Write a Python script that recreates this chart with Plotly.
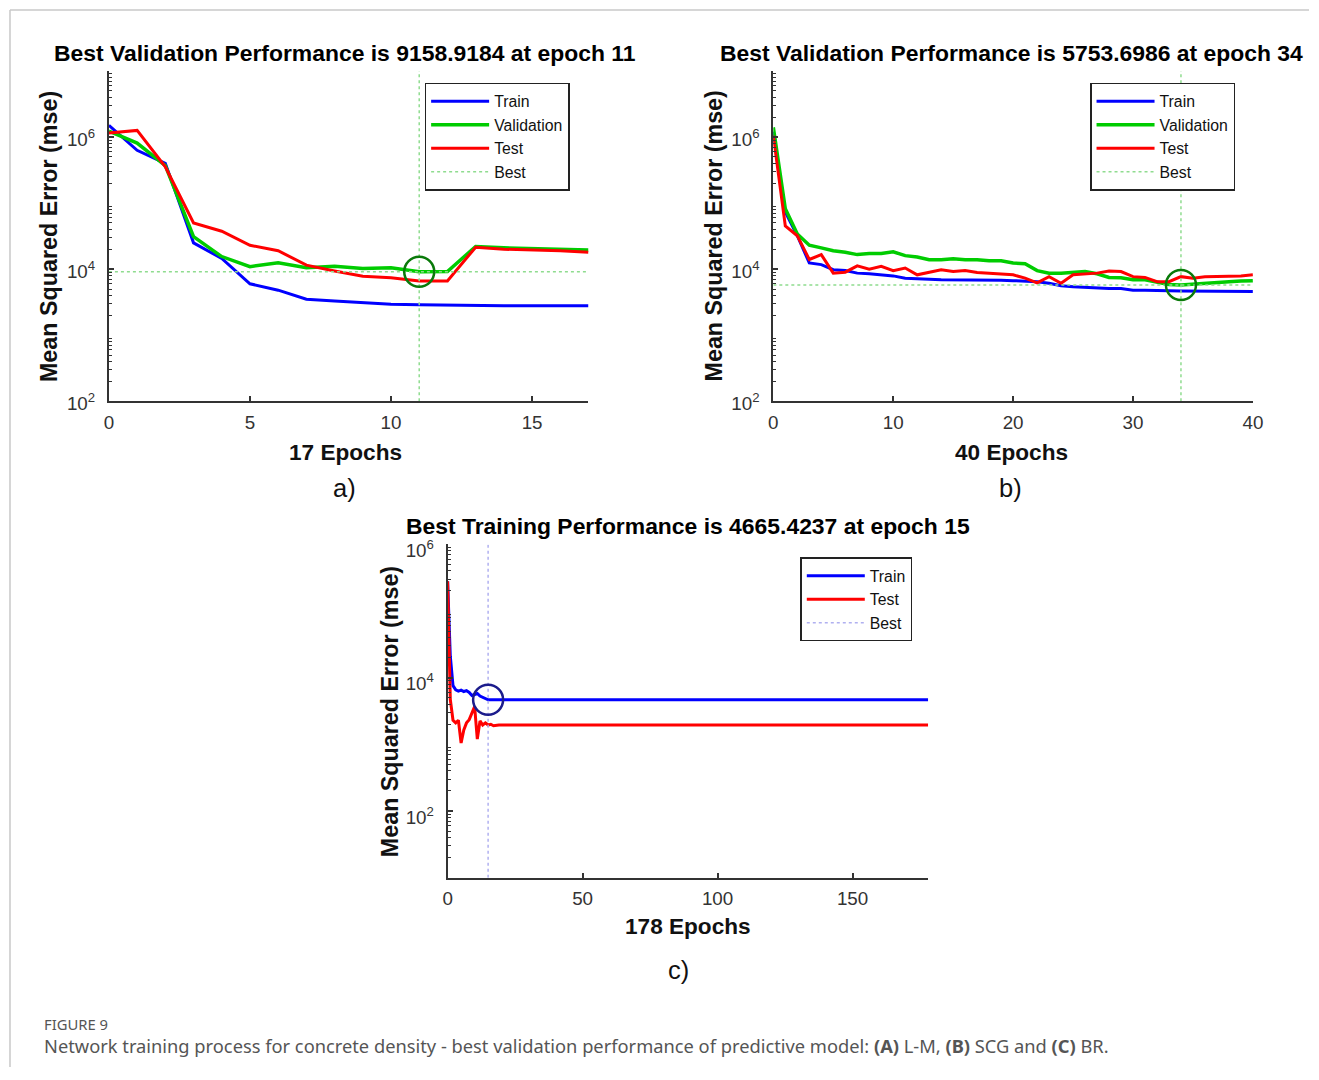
import plotly.graph_objects as go

# figure size in px; layout positions below are given in page pixels and
# converted to paper fractions (page offset/scale of the captured view)
FW, FH = 1319, 1080
SX, OX = 0.9895, 4.0
SY, OY = 0.9806, 11.1

# ---------------- (a) Levenberg-Marquardt ----------------
epochs_a = list(range(18))
train_a = [1.5e6, 6.3e5, 4.0e5, 2.5e4, 1.45e4, 6.0e3, 4.8e3, 3.5e3, 3.3e3, 3.15e3,
           2.95e3, 2.9e3, 2.85e3, 2.85e3, 2.8e3, 2.8e3, 2.8e3, 2.8e3]
val_a = [1.23e6, 8.1e5, 3.7e5, 3.1e4, 1.55e4, 1.09e4, 1.25e4, 1.05e4, 1.11e4, 1.02e4,
         1.05e4, 9158.9184, 9.2e3, 2.2e4, 2.1e4, 2.05e4, 2.0e4, 1.95e4]
test_a = [1.15e6, 1.26e6, 3.55e5, 5.0e4, 3.75e4, 2.3e4, 1.9e4, 1.15e4, 9.4e3, 7.8e3,
          7.4e3, 6.6e3, 6.6e3, 2.15e4, 2.0e4, 1.95e4, 1.9e4, 1.8e4]
best_epoch_a = 11
best_val_a = 9158.9184

# ---------------- (b) Scaled Conjugate Gradient ----------------
epochs_b = list(range(41))
train_b = [1.2e6, 7.3e4, 3.2e4, 1.24e4, 1.17e4, 9.8e3, 9.5e3, 8.7e3, 8.5e3, 8.3e3,
           7.9e3, 7.3e3, 7.1e3, 7.0e3, 6.9e3, 6.9e3, 6.8e3, 6.8e3, 6.8e3, 6.8e3,
           6.7e3, 6.6e3, 6.45e3, 6.1e3, 5.6e3, 5.4e3, 5.3e3, 5.15e3, 5.1e3, 5.1e3,
           4.8e3, 4.8e3, 4.8e3, 4.7e3, 4.65e3, 4.65e3, 4.65e3, 4.65e3, 4.6e3, 4.6e3,
           4.6e3]
val_b = [1.4e6, 8.2e4, 3.4e4, 2.3e4, 2.1e4, 1.9e4, 1.8e4, 1.66e4, 1.72e4, 1.72e4,
         1.83e4, 1.6e4, 1.53e4, 1.39e4, 1.39e4, 1.44e4, 1.39e4, 1.39e4, 1.34e4, 1.34e4,
         1.24e4, 1.21e4, 9.5e3, 8.7e3, 8.7e3, 8.9e3, 9.2e3, 8.5e3, 7.5e3, 7.4e3,
         6.9e3, 6.9e3, 6.45e3, 5.85e3, 5753.6986, 5.95e3, 6.1e3, 6.2e3, 6.45e3, 6.6e3,
         6.7e3]
test_b = [1.05e6, 4.5e4, 3.2e4, 1.4e4, 1.66e4, 8.7e3, 9.0e3, 1.12e4, 1.0e4, 1.1e4,
          9.5e3, 1.04e4, 8.2e3, 8.9e3, 9.8e3, 9.2e3, 9.5e3, 8.9e3, 8.7e3, 8.5e3,
          8.2e3, 7.3e3, 6.2e3, 7.7e3, 6.1e3, 8.2e3, 8.5e3, 8.7e3, 9.4e3, 9.2e3,
          7.7e3, 7.5e3, 6.45e3, 6.45e3, 7.7e3, 7.3e3, 7.7e3, 7.7e3, 7.7e3, 7.9e3,
          8.2e3]
best_epoch_b = 34
best_val_b = 5753.6986

# ---------------- (c) Bayesian Regularization ----------------
epochs_c = list(range(25)) + [178]
train_c = [2.8e5, 2.1e4, 7.6e3, 6.6e3, 6.3e3, 6.5e3, 6.2e3, 6.4e3, 6.0e3, 5.4e3,
           5.6e3, 5.8e3, 5.3e3, 5.1e3, 4.9e3, 4665.4237, 4.67e3, 4.67e3, 4.67e3, 4.67e3,
           4.67e3, 4.67e3, 4.67e3, 4.67e3, 4.67e3, 4.67e3]
test_c = [2.8e5, 4.7e3, 2.3e3, 2.1e3, 2.3e3, 1.05e3, 1.65e3, 2.1e3, 2.35e3, 2.95e3,
          3.7e3, 1.2e3, 2.25e3, 1.95e3, 2.1e3, 1.95e3, 2.0e3, 1.9e3, 1.95e3, 1.95e3,
          1.95e3, 1.95e3, 1.95e3, 1.95e3, 1.95e3, 1.95e3]
best_epoch_c = 15
best_train_c = 4665.4237

# tick labels
xticks_a = [0, 5, 10, 15]
xticks_b = [0, 10, 20, 30, 40]
xticks_c = [0, 50, 100, 150]
yticks = [1e2, 1e4, 1e6]
ytick_text = ["10<sup>2</sup>", "10<sup>4</sup>", "10<sup>6</sup>"]

titles = ["Best Validation Performance is 9158.9184 at epoch 11",
          "Best Validation Performance is 5753.6986 at epoch 34",
          "Best Training Performance is 4665.4237 at epoch 15"]
xlabels = ["17 Epochs", "40 Epochs", "178 Epochs"]
panel_tags = ["a)", "b)", "c)"]
ylabel = "Mean Squared Error (mse)"

BLUE, GREEN, RED = "#0000ff", "#00cc00", "#ff0000"
BEST_G, BEST_B = "#8fdc8f", "#b0b0f0"
CIRC_G, CIRC_B = "#0a7a0a", "#1c1c8c"
FONT = "Liberation Sans, Arial, sans-serif"
AX = "#333333"


def px(x):
    return ((x - OX) / SX) / FW


def py(y):
    return 1 - ((y - OY) / SY) / FH


fig = go.Figure()


def add_panel(xa, ya, leg, ep, series, best_ep, best_v, yr, best_col, circ_col, horiz):
    for name, vals, col, w in series:
        fig.add_trace(go.Scatter(x=ep, y=vals, mode="lines", name=name,
                                 line=dict(color=col, width=w), xaxis=xa, yaxis=ya,
                                 legend=leg, legendgroup=leg + name))
    xmax = ep[-1]
    bx = [best_ep, best_ep]
    by = [10 ** yr[0], 10 ** yr[1]]
    if horiz:
        bx += [None, 0, xmax]
        by += [None, best_v, best_v]
    fig.add_trace(go.Scatter(x=bx, y=by, mode="lines", name="Best",
                             line=dict(color=best_col, width=1.5, dash="dot"),
                             xaxis=xa, yaxis=ya, legend=leg, legendgroup=leg + "Best"))
    fig.add_trace(go.Scatter(x=[best_ep], y=[best_v], mode="markers", showlegend=False,
                             marker=dict(symbol="circle-open", size=30, color=circ_col,
                                         line=dict(color=circ_col, width=2.5)),
                             xaxis=xa, yaxis=ya))


add_panel("x", "y", "legend", epochs_a,
          [("Train", train_a, BLUE, 3), ("Validation", val_a, GREEN, 3.5), ("Test", test_a, RED, 3)],
          best_epoch_a, best_val_a, (2, 7), BEST_G, CIRC_G, True)
add_panel("x2", "y2", "legend2", epochs_b,
          [("Train", train_b, BLUE, 3), ("Validation", val_b, GREEN, 3.5), ("Test", test_b, RED, 3)],
          best_epoch_b, best_val_b, (2, 7), BEST_G, CIRC_G, True)
add_panel("x3", "y3", "legend3", epochs_c,
          [("Train", train_c, BLUE, 3), ("Test", test_c, RED, 3)],
          best_epoch_c, best_train_c, (1, 6), BEST_B, CIRC_B, False)

minor_vals = [k * 10 ** d for d in range(0, 7) for k in range(2, 10)]
tickfont = dict(family=FONT, size=18.8, color="#333")


def xaxis(dom, rng, ticks, anchor):
    return dict(domain=dom, range=rng, tickmode="array", tickvals=ticks, anchor=anchor,
                showline=True, linecolor=AX, linewidth=2, ticks="inside", ticklen=5,
                tickcolor=AX, tickwidth=1.5, showgrid=False, zeroline=False,
                tickfont=tickfont, ticklabelstandoff=3)


def yaxis(dom, rng, anchor, shift):
    return dict(domain=dom, type="log", range=rng, tickmode="array", tickvals=yticks,
                ticktext=ytick_text, anchor=anchor, showline=True, linecolor=AX,
                linewidth=2, ticks="inside", ticklen=5, tickcolor=AX, tickwidth=1.5,
                showgrid=False, zeroline=False, tickfont=tickfont, ticklabelstandoff=8,
                ticklabelshift=shift,
                minor=dict(ticks="inside", ticklen=3, tickcolor=AX, tickwidth=1,
                           tickmode="array", tickvals=minor_vals, showgrid=False))


legend_common = dict(xanchor="left", yanchor="top", bgcolor="white", bordercolor="#222",
                     borderwidth=1.5, font=dict(family=FONT, size=15.8, color="#111"),
                     itemwidth=58, tracegroupgap=0, itemclick=False)

fig.update_layout(
    width=FW, height=FH, margin=dict(l=0, r=0, t=0, b=0),
    paper_bgcolor="white", plot_bgcolor="white",
    xaxis=xaxis([px(108), px(588)], [0, 17], xticks_a, "y"),
    yaxis=yaxis([py(405), py(75)], [2, 7], "x", 2),
    xaxis2=xaxis([px(773), px(1253)], [0, 40], xticks_b, "y2"),
    yaxis2=yaxis([py(405), py(75)], [2, 7], "x2", 2),
    xaxis3=xaxis([px(447), px(928)], [0, 178], xticks_c, "y3"),
    yaxis3=yaxis([py(881), py(548)], [1, 6], "x3", 6),
    legend=dict(x=px(424), y=py(87), **legend_common),
    legend2=dict(x=px(1090), y=py(87), **legend_common),
    legend3=dict(x=px(800), y=py(561), **legend_common),
    showlegend=True,
)

ann = []
for (cx, cy), t in zip([(344, 57), (1011, 57), (688, 530)], titles):
    ann.append(dict(x=px(cx), y=py(cy), text="<b>" + t + "</b>",
                    font=dict(family=FONT, size=22.9, color="#000")))
for (cx, cy), t in zip([(345, 456), (1011, 456), (688, 930)], xlabels):
    ann.append(dict(x=px(cx), y=py(cy), text="<b>" + t + "</b>",
                    font=dict(family=FONT, size=22.6, color="#111")))
for (cx, cy), t in zip([(344, 492), (1010, 492), (678, 973)], panel_tags):
    ann.append(dict(x=px(cx), y=py(cy), text=t,
                    font=dict(family=FONT, size=25.5, color="#111")))
for cx, cy in [(48, 240), (714, 240), (389, 715)]:
    ann.append(dict(x=px(cx), y=py(cy), text="<b>" + ylabel + "</b>", textangle=-90,
                    font=dict(family=FONT, size=23.3, color="#111")))

ann.append(dict(x=px(41), y=py(1027), xanchor="left", text="FIGURE 9",
                font=dict(family="Noto Sans", size=14.8, color="#555")))
ann.append(dict(x=px(41), y=py(1049), xanchor="left",
                text="Network training process for concrete density - best validation performance "
                     "of predictive model: <b>(A)</b> L-M, <b>(B)</b> SCG and <b>(C)</b> BR.",
                font=dict(family="Noto Sans", size=18.3, color="#555")))
for a in ann:
    a.setdefault("xanchor", "center")
    a.update(xref="paper", yref="paper", yanchor="middle", showarrow=False)
fig.update_layout(annotations=ann)

# page frame
fig.add_shape(type="line", xref="paper", yref="paper", x0=px(9), x1=1, y0=py(14), y1=py(14),
              line=dict(color="#c8c8c8", width=1.5))
fig.add_shape(type="line", xref="paper", yref="paper", x0=px(9), x1=px(9), y0=py(14), y1=0,
              line=dict(color="#c8c8c8", width=1.5))

fig.write_html("out.html")
